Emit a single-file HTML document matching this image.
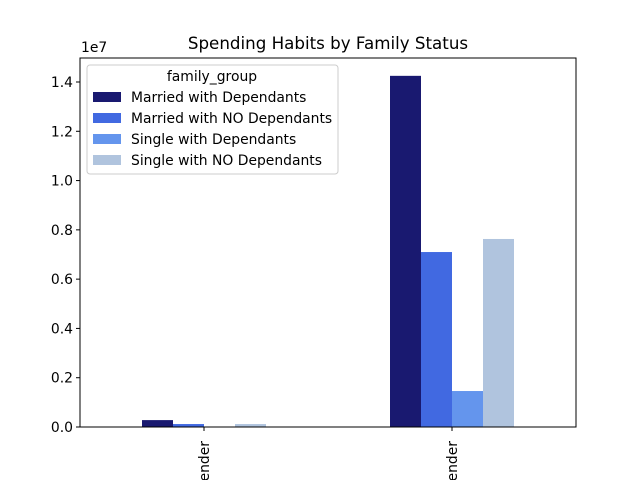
<!DOCTYPE html>
<html><head><meta charset="utf-8"><style>html,body{margin:0;background:#fff;width:640px;height:480px;overflow:hidden}svg{display:block;overflow:hidden;font-family:"DejaVu Sans","Liberation Sans",sans-serif}</style></head>
<body>
<svg id="c" width="640" height="480"></svg>
<script>
const categories=["Low Spender","High Spender"];
const seriesNames=["Married with Dependants","Married with NO Dependants","Single with Dependants","Single with NO Dependants"];
const colors=["#191970","#4169e1","#6495ed","#b0c4de"];
const marriedDep=[0.028,1.425];
const marriedNoDep=[0.012,0.71];
const singleDep=[0.0,0.146];
const singleNoDep=[0.012,0.763];
const series=[marriedDep,marriedNoDep,singleDep,singleNoDep];
const yTicks=[0,0.2,0.4,0.6,0.8,1.0,1.2,1.4];
const NS="http://www.w3.org/2000/svg";
const svg=document.getElementById('c');
const L=80,R=576,T=58,B=427;
const y=v=>B-v*(B-82)/1.4;
const x=i=>204+i*248;
const bw=31;
function mk(t,a,p){const e=document.createElementNS(NS,t);for(const k in a)e.setAttribute(k,a[k]);(p||svg).appendChild(e);return e;}
series.forEach((s,si)=>{s.forEach((v,ci)=>{
 const r=mk('rect',{x:x(ci)-2*bw+si*bw,y:y(v),width:bw,height:B-y(v),fill:colors[si]});
 
 
});});
const ax=mk('rect',{x:L,y:T,width:R-L,height:B-T,fill:'none',stroke:'#000','stroke-width':1});


yTicks.forEach(v=>{
 mk('line',{x1:L-4,x2:L,y1:y(v),y2:y(v),stroke:'#000'});
 const t=mk('text',{x:L-7,y:y(v)+5,'text-anchor':'end','font-size':13.9});t.textContent=v.toFixed(1);
 
 
});
categories.forEach((c,i)=>{
 mk('line',{x1:x(i),x2:x(i),y1:B,y2:B+4,stroke:'#000'});
 const t=mk('text',{transform:`translate(${x(i)+5},441) rotate(-90)`,'text-anchor':'end','font-size':13.9});t.textContent=c;
 
 
});
const ex=mk('text',{x:81,y:52,'font-size':13.9});ex.textContent='1e7';


const ti=mk('text',{x:328,y:49,'text-anchor':'middle','font-size':16.7});ti.textContent='Spending Habits by Family Status';


const lg=mk('g',{});


mk('rect',{x:87,y:65,width:251,height:109,rx:3,fill:'#fff','fill-opacity':0.8,stroke:'#ccc'},lg);
const lt=mk('text',{x:212,y:81,'text-anchor':'middle','font-size':13.9},lg);lt.textContent='family_group';
seriesNames.forEach((n,i)=>{
 const yy=97+i*21;
 mk('rect',{x:93,y:yy-5,width:28,height:10,fill:colors[i]},lg);
 const t=mk('text',{x:131,y:yy+5,'font-size':13.9},lg);t.textContent=n;
 
 
});
</script>
</body></html>
